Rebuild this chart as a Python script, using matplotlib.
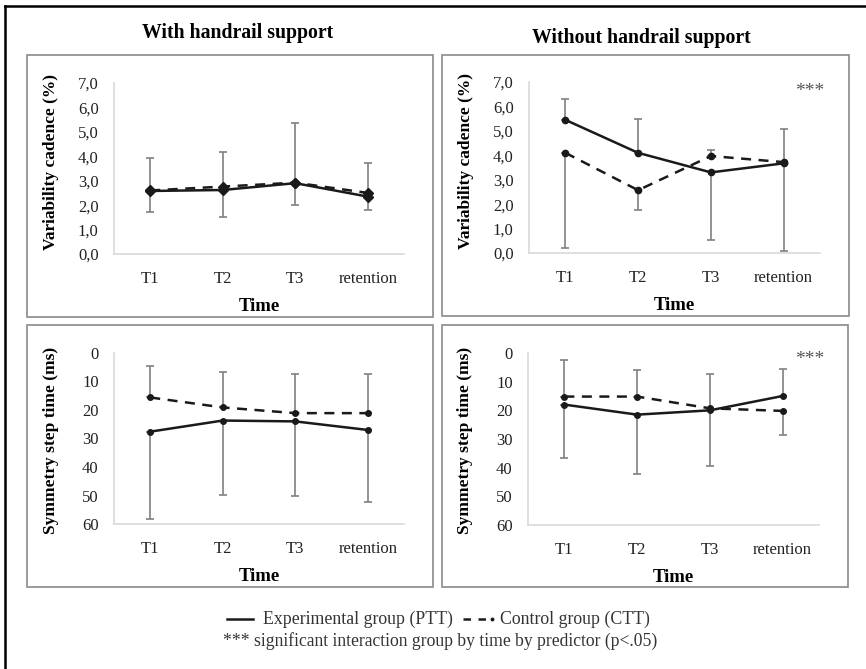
import numpy as np
import matplotlib
matplotlib.use("Agg")
import matplotlib.pyplot as plt
from matplotlib.patches import Rectangle
from matplotlib.lines import Line2D

plt.rcParams['font.family'] = ['Liberation Serif', 'DejaVu Serif']

W, H = 866, 669

### Data
times = ['T1', 'T2', 'T3', 'retention']

# variability cadence (%), with handrail support
cad_hr_exp = [2.58, 2.62, 2.90, 2.35]
cad_hr_ctl = [2.60, 2.76, 2.92, 2.50]
cad_hr_exp_lo = [0.88, 1.11, 0.88, 0.55]
cad_hr_exp_hi = [0, 0, 0, 0]
cad_hr_ctl_lo = [0, 0, 0, 0]
cad_hr_ctl_hi = [1.33, 1.41, 2.44, 1.22]

# variability cadence (%), without handrail support
cad_nohr_exp = [5.45, 4.10, 3.30, 3.67]
cad_nohr_ctl = [4.10, 2.57, 3.97, 3.72]
cad_nohr_exp_lo = [0, 0, 2.75, 0]
cad_nohr_exp_hi = [0.86, 1.38, 0, 1.41]
cad_nohr_ctl_lo = [3.91, 0.79, 0, 3.65]
cad_nohr_ctl_hi = [0, 0, 0.24, 0]

# symmetry step time (ms), with handrail support
sym_hr_exp = [27.6, 23.7, 24.0, 27.0]
sym_hr_ctl = [15.6, 19.1, 21.1, 21.1]
sym_hr_exp_lo = [0, 0, 0, 0]
sym_hr_exp_hi = [30.6, 26.1, 26.3, 25.3]
sym_hr_ctl_lo = [10.9, 12.3, 13.6, 13.6]
sym_hr_ctl_hi = [0, 0, 0, 0]

# symmetry step time (ms), without handrail support
sym_nohr_exp = [18.0, 21.5, 20.0, 15.0]
sym_nohr_ctl = [15.2, 15.2, 19.3, 20.2]
sym_nohr_exp_lo = [0, 0, 0, 9.4]
sym_nohr_exp_hi = [18.6, 20.6, 19.4, 0]
sym_nohr_ctl_lo = [12.9, 9.4, 12.0, 0]
sym_nohr_ctl_hi = [0, 0, 0, 8.5]

cad_ticks = [0, 1, 2, 3, 4, 5, 6, 7]
sym_ticks = [0, 10, 20, 30, 40, 50, 60]

LINE = '#1a1a1a'
ERR = '#808080'
SPINE = '#d9d9d9'


def box(x0, y0, x1, y1):
    # pixel box (top-left origin) -> figure fraction
    return [x0 / W, 1 - y1 / H, (x1 - x0) / W, (y1 - y0) / H]


def panel(fig, rect, exp, ctl, exp_err, ctl_err, ticks, ylabel, ylab_y, invert=False, marker='o', ms=4):
    ax = fig.add_axes(box(*rect))
    x = np.arange(len(times))
    ax.errorbar(x, exp, yerr=exp_err, fmt='none', ecolor=ERR, elinewidth=1.2, capsize=3, capthick=1.2, zorder=1)
    ax.errorbar(x, ctl, yerr=ctl_err, fmt='none', ecolor=ERR, elinewidth=1.2, capsize=3, capthick=1.2, zorder=1)
    ax.plot(x, ctl, color=LINE, lw=1.8, ls=(0, (4, 3)), marker=marker, ms=ms, zorder=3)
    ax.plot(x, exp, color=LINE, lw=1.8, ls='-', marker=marker, ms=ms, zorder=4)
    ax.set_xlim(-0.5, len(times) - 0.5)
    ax.set_xticks(x)
    ax.set_xticklabels(times, fontsize=12)
    if invert:
        ax.set_ylim(ticks[-1], ticks[0])
        ax.set_yticks(ticks)
        ax.set_yticklabels([str(t) for t in ticks], fontsize=12)
    else:
        ax.set_ylim(ticks[0], ticks[-1])
        ax.set_yticks(ticks)
        ax.set_yticklabels(['{:.1f}'.format(t).replace('.', ',') for t in ticks], fontsize=12)
    ax.tick_params(length=0, colors='#222222')
    ax.tick_params(axis='y', pad=11)
    ax.tick_params(axis='x', pad=12)
    for s in ['top', 'right']:
        ax.spines[s].set_visible(False)
    if invert:
        ax.spines['bottom'].set_visible(False)
        ax.axhline(ticks[-1], color=SPINE, lw=1.2, clip_on=False, zorder=0)
    for s in ['left', 'bottom']:
        ax.spines[s].set_color(SPINE)
        ax.spines[s].set_linewidth(1.2)
    ax.set_xlabel('Time', fontsize=13.5, fontweight='bold', labelpad=8)
    ax.set_ylabel(ylabel, fontsize=12.5, fontweight='bold')
    ax.yaxis.set_label_coords(-0.188, ylab_y)
    ax.patch.set_alpha(0)
    return ax


fig = plt.figure(figsize=(W / 100, H / 100), dpi=100)

# outer frame (left and top edges)
fig.add_artist(Line2D([5 / W, 5 / W], [0, 1 - 6 / H], color='black', lw=1.8, transform=fig.transFigure))
fig.add_artist(Line2D([5 / W, 1], [1 - 6 / H, 1 - 6 / H], color='black', lw=1.8, transform=fig.transFigure))

# panel boxes
for (x0, y0, x1, y1) in [(27, 55, 433, 317), (442, 55, 849, 316), (27, 325, 433, 587), (442, 325, 848, 587)]:
    fig.add_artist(Rectangle((x0 / W, 1 - y1 / H), (x1 - x0) / W, (y1 - y0) / H, fill=False,
                             ec='#8a8a8a', lw=1.2, transform=fig.transFigure))

fig.text(238 / W, 1 - 33 / H, 'With handrail support', ha='center', va='center', fontsize=14.2, fontweight='bold')
fig.text(641 / W, 1 - 38 / H, 'Without handrail support', ha='center', va='center', fontsize=14.2, fontweight='bold')

panel(fig, (114, 83, 404, 254), cad_hr_exp, cad_hr_ctl, [cad_hr_exp_lo, cad_hr_exp_hi],
      [cad_hr_ctl_lo, cad_hr_ctl_hi], cad_ticks, 'Variability cadence (%)', 0.54, marker='D', ms=5.5)
ax2 = panel(fig, (529, 82, 820, 253), cad_nohr_exp, cad_nohr_ctl, [cad_nohr_exp_lo, cad_nohr_exp_hi],
            [cad_nohr_ctl_lo, cad_nohr_ctl_hi], cad_ticks, 'Variability cadence (%)', 0.54, ms=4.5)
panel(fig, (114, 353, 404, 524), sym_hr_exp, sym_hr_ctl, [sym_hr_exp_lo, sym_hr_exp_hi],
      [sym_hr_ctl_lo, sym_hr_ctl_hi], sym_ticks, 'Symmetry step time (ms)', 0.49, invert=True)
ax4 = panel(fig, (528, 353, 819, 525), sym_nohr_exp, sym_nohr_ctl, [sym_nohr_exp_lo, sym_nohr_exp_hi],
            [sym_nohr_ctl_lo, sym_nohr_ctl_hi], sym_ticks, 'Symmetry step time (ms)', 0.49, invert=True)

fig.text(810 / W, 1 - 91 / H, '***', ha='center', va='center', fontsize=14, color='#555555')
fig.text(810 / W, 1 - 359 / H, '***', ha='center', va='center', fontsize=14, color='#555555')

# legend
ly = 1 - 619 / H
fig.add_artist(Line2D([227 / W, 253 / W], [ly, ly], color=LINE, lw=1.8, transform=fig.transFigure))
fig.text(263 / W, ly, 'Experimental group (PTT)', ha='left', va='center', fontsize=12.8, color='#333333')
fig.add_artist(Line2D([463 / W, 486 / W], [ly, ly], color=LINE, lw=1.8, ls=(0, (3, 3)),
                      transform=fig.transFigure))
fig.add_artist(Line2D([492 / W], [ly], color=LINE, marker='o', ms=1.8, ls='none',
                      transform=fig.transFigure))
fig.text(500 / W, ly, 'Control group (CTT)', ha='left', va='center', fontsize=12.8, color='#333333')
fig.text(440 / W, 1 - 641 / H, '*** significant interaction group by time by predictor (p<.05)',
         ha='center', va='center', fontsize=12.7, color='#333333')

fig.savefig('out.png', dpi=100)
